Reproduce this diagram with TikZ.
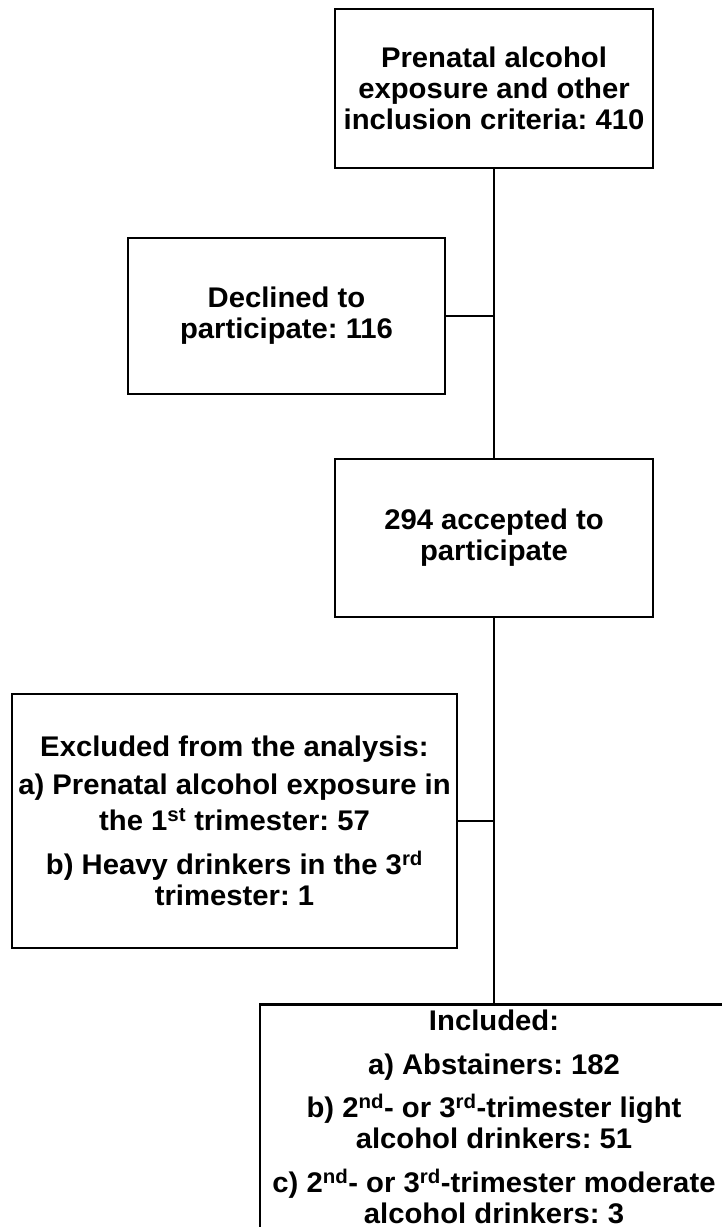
\documentclass[tikz,border=0pt]{standalone}
\usepackage{fontspec}
\setmainfont{Liberation Sans}[FakeStretch=1.03]
\frenchspacing
\begin{document}
\begin{tikzpicture}[x=1pt,y=-1pt,
  box/.style={draw=black,line width=2.6pt,rectangle,inner sep=0pt,align=center,
    font=\fontsize{28.4}{31}\selectfont\bfseries},
  txt/.style={inner sep=0pt,align=center,font=\fontsize{28.4}{31}\selectfont\bfseries},
  conn/.style={line width=2.6pt}]
\useasboundingbox (0,0) rectangle (722,1227);
\node[box,minimum width=318pt,minimum height=159pt] (b1) at (494,88.5)
  {Prenatal alcohol\\exposure and other\\inclusion criteria: 410};
\node[box,minimum width=317pt,minimum height=156pt] (b2) at (286.5,316)
  {Declined to\\participate: 116};
\node[box,minimum width=318pt,minimum height=158pt] (b3) at (494,538)
  {294 accepted to\\participate};
\node[box,minimum width=445pt,minimum height=254pt] (b4) at (234.5,821)
  {Excluded from the analysis:\\[7pt]
   a) Prenatal alcohol exposure in\\[5pt]
   the 1\textsuperscript{st} trimester: 57\\[13pt]
   b) Heavy drinkers in the 3\textsuperscript{rd}\\
   trimester: 1};
\node[box,anchor=north,minimum width=468pt,minimum height=260pt] (b5) at (494,1003) {};
\node[txt,anchor=north] (b5t) at (494,1010)
  {Included:\\[12.5pt]
   a) Abstainers: 182\\[12.5pt]
   b) 2\textsuperscript{nd}- or 3\textsuperscript{rd}-trimester light\\
   alcohol drinkers: 51\\[12.5pt]
   c) 2\textsuperscript{nd}- or 3\textsuperscript{rd}-trimester moderate\\
   alcohol drinkers: 3};
\draw[conn] (b1.south) -- (b3.north);
\draw[conn] (b3.south) -- (b5.north);
\draw[conn] (b2.east) -- (b2.east -| b1.south);
\draw[conn] (b4.east) -- (b4.east -| b3.south);
\end{tikzpicture}
\end{document}
